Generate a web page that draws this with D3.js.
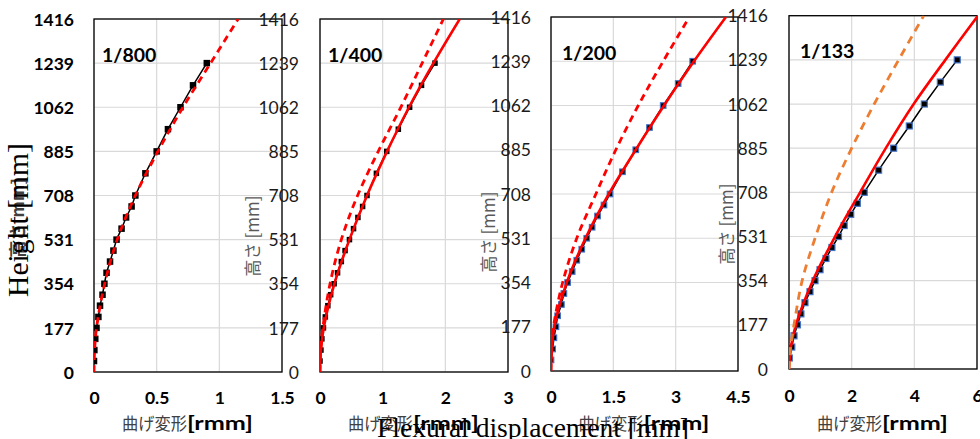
<!DOCTYPE html>
<html><head><meta charset="utf-8">
<script src="https://cdn.jsdelivr.net/npm/d3@7"></script>
<style>body{margin:0;background:#fff}svg{display:block}</style>
</head><body>
<script>
// ---------- data ----------
const yTicks = [0, 177, 354, 531, 708, 885, 1062, 1239, 1416];
const heightsMeasured = [44, 88, 133, 177, 221, 266, 310, 354, 398, 443, 487, 531, 575, 620, 664, 708, 797, 885, 974, 1062, 1150, 1239];
const heightsModel = [0, 88, 177, 354, 531, 708, 885, 1062, 1239, 1416];

const panelLabels = ["1/800", "1/400", "1/200", "1/133"];
const xTicks1 = [0, 0.5, 1, 1.5];
const xTicks2 = [0, 1, 2, 3];
const xTicks3 = [0, 1.5, 3, 4.5];
const xTicks4 = [0, 2, 4, 6];

const measured1 = [0.0, 0.003, 0.01, 0.02, 0.035, 0.048, 0.068, 0.083, 0.10, 0.128, 0.155, 0.18, 0.22, 0.256, 0.30, 0.33, 0.41, 0.50, 0.59, 0.69, 0.79, 0.90];
const dashed1   = [0, 0.005, 0.02, 0.085, 0.185, 0.33, 0.51, 0.71, 0.93, 1.15];

const measured2 = [0.0, 0.015, 0.03, 0.055, 0.085, 0.125, 0.17, 0.225, 0.28, 0.34, 0.40, 0.47, 0.535, 0.605, 0.68, 0.75, 0.90, 1.065, 1.25, 1.43, 1.62, 1.835];
const solid2    = [0, 0.015, 0.06, 0.23, 0.47, 0.75, 1.07, 1.42, 1.81, 2.23];
const dashed2   = [0, 0.01, 0.045, 0.16, 0.34, 0.60, 0.93, 1.29, 1.63, 1.97];

const measured3 = [0.0, 0.04, 0.07, 0.12, 0.16, 0.25, 0.31, 0.40, 0.51, 0.62, 0.74, 0.86, 0.99, 1.12, 1.275, 1.42, 1.72, 2.04, 2.37, 2.70, 3.06, 3.41];
const solid3    = [0, 0.02, 0.08, 0.38, 0.83, 1.39, 2.04, 2.72, 3.44, 4.21];
const dashed3   = [0, 0.015, 0.06, 0.28, 0.62, 1.08, 1.56, 2.10, 2.70, 3.33];

const measured4 = [0.01, 0.09, 0.16, 0.27, 0.38, 0.51, 0.67, 0.83, 0.99, 1.18, 1.37, 1.58, 1.76, 1.97, 2.18, 2.40, 2.86, 3.34, 3.84, 4.32, 4.83, 5.37];
const solid4    = [0, 0.06, 0.22, 0.76, 1.47, 2.27, 3.09, 3.98, 4.99, 6.03];
const dashed4   = [0, 0.05, 0.16, 0.42, 0.85, 1.36, 2.0, 2.72, 3.5, 4.30];

const yTitleJa = "高さ [mm]";
const xTitleJa = "曲げ変形";
const xTitleUnit = "[rmm]";
const overlayY = "Height [mm]";
const overlayX = "Flexural displacement [mm]";

// ---------- layout ----------
const W = 980, H = 439;
const svg = d3.select("body").append("svg").attr("width", W).attr("height", H);
svg.append("rect").attr("width", W).attr("height", H).attr("fill", "#fff");

const LAT = "Lato, 'Open Sans', sans-serif";
const CJK = "'Noto Sans CJK JP', sans-serif";

const panels = [
  {label: panelLabels[0], L: 94, R: 282, T: 19, B: 372, xTicks: xTicks1, measured: measured1, solid: null, dashed: dashed1,
   dashColor: "#ff0000", bold: true, lblRight: 74, xLblBase: 405, labX: 102, labY: 62, mSize: 6.5, mStroke: "#000"},
  {label: panelLabels[1], L: 320, R: 508, T: 19, B: 372, xTicks: xTicks2, measured: measured2, solid: solid2, dashed: dashed2,
   dashColor: "#ff0000", bold: false, lblRight: 299, xLblBase: 405, labX: 328, labY: 62, mSize: 5.5, mStroke: "#000"},
  {label: panelLabels[2], L: 551, R: 738, T: 17, B: 371, xTicks: xTicks3, measured: measured3, solid: solid3, dashed: dashed3,
   dashColor: "#ff0000", bold: false, lblRight: 531, xLblBase: 404, labX: 562, labY: 60, mSize: 5.5, mStroke: "#4472c4"},
  {label: panelLabels[3], L: 789, R: 977, T: 15.7, B: 369, xTicks: xTicks4, measured: measured4, solid: solid4, dashed: dashed4,
   dashColor: "#ed7d31", bold: false, lblRight: 768, xLblBase: 403, labX: 800, labY: 58, mSize: 6, mStroke: "#4472c4"}
];
const yTitleX = [null, 253, 489, 727];
const yTitleY = [null, 236, 232, 224];

panels.forEach((p, i) => {
  const x = d3.scaleLinear().domain([0, p.xTicks[p.xTicks.length - 1]]).range([p.L, p.R]);
  const y = d3.scaleLinear().domain([0, 1416]).range([p.B, p.T]);
  const g = svg.append("g");
  const clipId = "clip" + i;
  g.append("clipPath").attr("id", clipId).append("rect")
    .attr("x", p.L).attr("y", p.T).attr("width", p.R - p.L).attr("height", p.B - p.T);

  // gridlines
  g.selectAll(".hg").data(yTicks).join("line")
    .attr("x1", p.L).attr("x2", p.R).attr("y1", d => y(d)).attr("y2", d => y(d))
    .attr("stroke", "#d9d9d9").attr("stroke-width", 1.2);
  g.selectAll(".vg").data(p.xTicks).join("line")
    .attr("y1", p.T).attr("y2", p.B).attr("x1", d => x(d)).attr("x2", d => x(d))
    .attr("stroke", "#d9d9d9").attr("stroke-width", 1.2);

  // axes labels via d3 axes
  const yAxis = g.append("g").attr("transform", `translate(${p.lblRight + 4},0)`)
    .call(d3.axisLeft(y).tickValues(yTicks).tickSize(0).tickPadding(4).tickFormat(d3.format("d")));
  yAxis.select(".domain").remove();
  yAxis.selectAll("text").attr("font-family", LAT).attr("font-size", 17.5)
    .attr("font-weight", p.bold ? 700 : 400).attr("fill", p.bold ? "#000" : "#1a1a1a").attr("dy", "0.35em");

  const xAxis = g.append("g").attr("transform", `translate(0,${p.xLblBase - 13})`)
    .call(d3.axisBottom(x).tickValues(p.xTicks).tickSize(0).tickPadding(0).tickFormat(d => String(d)));
  xAxis.select(".domain").remove();
  xAxis.selectAll("text").attr("font-family", LAT).attr("font-size", 17.5)
    .attr("font-weight", 700).attr("fill", "#000").attr("dy", "0.71em");

  // plot border
  g.append("rect").attr("x", p.L).attr("y", p.T).attr("width", p.R - p.L).attr("height", p.B - p.T)
    .attr("fill", "none").attr("stroke", "#000").attr("stroke-width", 1.3);

  // data
  const dg = g.append("g").attr("clip-path", `url(#${clipId})`);
  const meas = p.measured.map((v, k) => [v, heightsMeasured[k]]);
  const lineM = d3.line().x(d => x(d[0])).y(d => y(d[1]));
  const lineC = d3.line().x(d => x(d[0])).y(d => y(d[1])).curve(d3.curveCatmullRom.alpha(0.5));
  dg.append("path").datum(meas).attr("d", lineM).attr("fill", "none").attr("stroke", "#000").attr("stroke-width", 1.5);
  dg.selectAll(".mk").data(meas).join("rect")
    .attr("x", d => x(d[0]) - p.mSize / 2).attr("y", d => y(d[1]) - p.mSize / 2)
    .attr("width", p.mSize).attr("height", p.mSize)
    .attr("fill", "#000").attr("stroke", p.mStroke).attr("stroke-width", p.mStroke === "#000" ? 0 : 1.2);
  if (p.solid) {
    dg.append("path").datum(p.solid.map((v, k) => [v, heightsModel[k]])).attr("d", lineC)
      .attr("fill", "none").attr("stroke", "#ff0000").attr("stroke-width", 2.6);
  }
  dg.append("path").datum(p.dashed.map((v, k) => [v, heightsModel[k]])).attr("d", lineC)
    .attr("fill", "none").attr("stroke", p.dashColor).attr("stroke-width", 2.8)
    .attr("stroke-dasharray", i === 3 ? "8,6" : "7,5");

  // panel label
  g.append("text").attr("x", p.labX).attr("y", p.labY).text(p.label)
    .attr("font-family", LAT).attr("font-size", 19.5).attr("font-weight", 700).attr("fill", "#000");

  // x title
  const cx = (p.L + p.R) / 2;
  g.append("text").attr("x", cx - 66).attr("y", 430).text(xTitleJa)
    .attr("font-family", CJK).attr("font-size", 17).attr("fill", "#404040")
    .attr("textLength", 65).attr("lengthAdjust", "spacingAndGlyphs");
  g.append("text").attr("x", cx - 1).attr("y", 430).text(xTitleUnit)
    .attr("font-family", LAT).attr("font-size", 19).attr("font-weight", 700).attr("fill", "#000")
    .attr("textLength", 66).attr("lengthAdjust", "spacingAndGlyphs");

  // y title
  if (i === 0) {
    svg.append("text").attr("transform", "translate(24,218) rotate(-90)").attr("text-anchor", "middle")
      .text(yTitleJa.replace(" ", "")).attr("font-family", CJK).attr("font-size", 17).attr("font-weight", 700).attr("fill", "#404040");
  } else {
    svg.append("text").attr("transform", `translate(${yTitleX[i] + 6},${yTitleY[i]}) rotate(-90)`).attr("text-anchor", "middle")
      .text(yTitleJa).attr("font-family", CJK).attr("font-size", 17).attr("fill", "#595959");
  }
});

// overlay serif titles
svg.append("text").attr("transform", "translate(28,220) rotate(-90)").attr("text-anchor", "middle")
  .text(overlayY).attr("font-family", "'Liberation Serif', 'DejaVu Serif', serif").attr("font-size", 29).attr("fill", "#000")
  .attr("textLength", 154).attr("lengthAdjust", "spacingAndGlyphs");
svg.append("text").attr("x", 377).attr("y", 437)
  .text(overlayX).attr("font-family", "'Liberation Serif', 'DejaVu Serif', serif").attr("font-size", 28).attr("fill", "#000")
  .attr("textLength", 312).attr("lengthAdjust", "spacingAndGlyphs");
</script>
</body></html>
